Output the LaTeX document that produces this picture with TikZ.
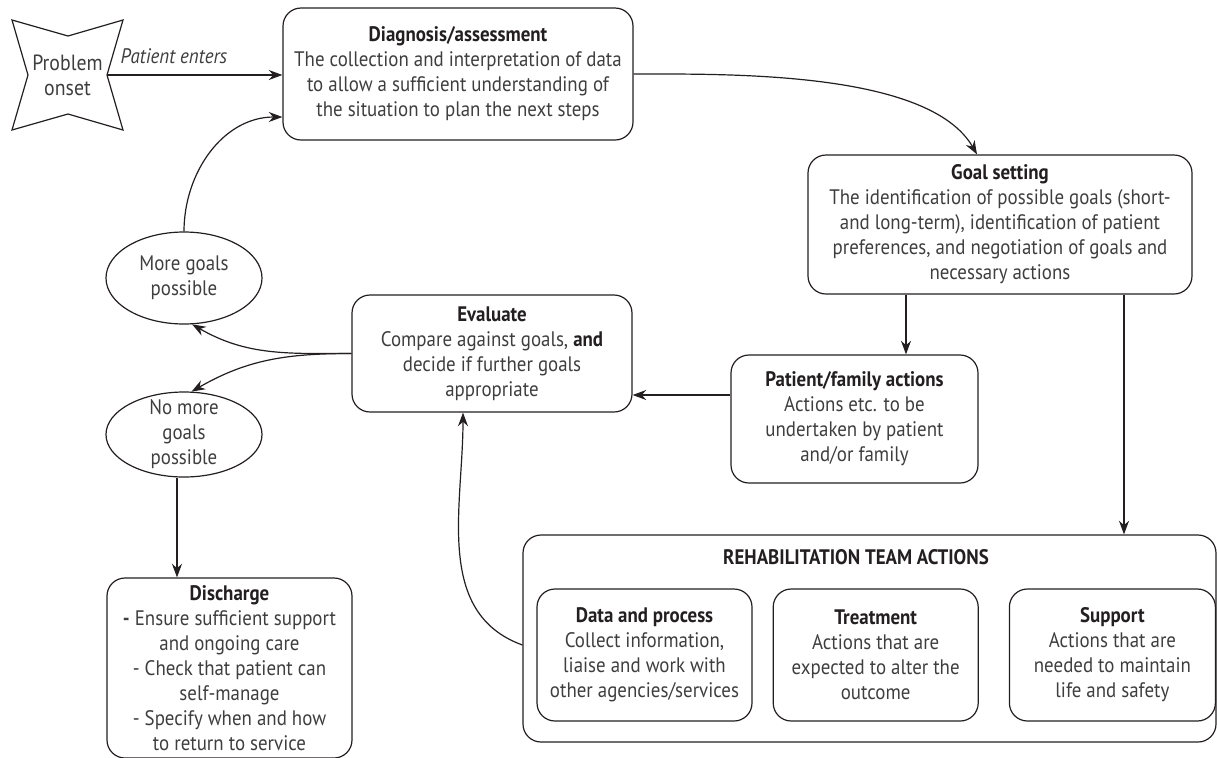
\documentclass[tikz,border=0pt]{standalone}
\usepackage{fontspec}
\setmainfont{PT Sans}[FakeStretch=0.9]
\usepackage{tikz}
\usetikzlibrary{arrows.meta,positioning,shapes.geometric,calc}
\definecolor{fontgray}{RGB}{35, 31, 32}
\definecolor{bodygray}{RGB}{62, 62, 62}
\newcommand{\boxtitle}[1]{{\bfseries\color{fontgray}#1}}

\begin{document}
\begin{tikzpicture}[x=0.5pt, y=-0.5pt, >={Stealth[length=6.8pt, width=5pt]},
		every node/.style={font=\fontsize{10.5}{12.5}\selectfont, text=bodygray},
		stepbox/.style={draw=fontgray, line width=0.6pt, rounded corners=9pt, align=center, inner sep=0pt},
		goalell/.style={draw=fontgray, line width=0.6pt, ellipse, align=center, inner sep=0pt},
		flowLine/.style={line width=0.6pt, draw=fontgray, ->}
		]
	
		\useasboundingbox (0,0) rectangle (1217,757);
	
		% start of the process
		\draw [line width=0.6pt, draw=fontgray] (12,20) -- (68,36) -- (123,20) -- (107,75) -- (123,130) -- (68,114) -- (12,130) -- (28,75) -- cycle;
		\node [minimum width=39.5pt, inner sep=0pt, align=center, font=\fontsize{11}{12.5}\selectfont] (onset) at (67.5,75) {Problem\\onset};
		
		\node [stepbox, minimum width=175pt, minimum height=66pt] (diag) at (458,74) {\boxtitle{Diagnosis/assessment}\\The collection and interpretation of data\\to allow a sufficient understanding of\\the situation to plan the next steps};
		\node [stepbox, minimum width=192pt, minimum height=69.5pt] (goal) at (1000,224.5) {\boxtitle{Goal setting}\\The identification of possible goals (short-\\and long-term), identification of patient\\preferences, and negotiation of goals and\\necessary actions};
		\node [stepbox, minimum width=140pt, minimum height=58.5pt] (eval) at (492,353.5) {\boxtitle{Evaluate}\\Compare against goals, {\bfseries\color{fontgray}and}\\decide if further goals\\appropriate};
		\node [stepbox, minimum width=123.5pt, minimum height=64pt] (patient) at (854.5,419) {\boxtitle{Patient/family actions}\\Actions etc. to be\\undertaken by patient\\and/or family};
		
		\node [goalell, minimum width=78pt, minimum height=46pt] (more) at (184,278) {More goals\\possible};
		\node [goalell, minimum width=78pt, minimum height=42.5pt, inner ysep=-2.5pt] (nomore) at (184,434.5) {No more\\goals\\possible};
		
		\node [stepbox, minimum width=122.5pt, minimum height=90pt] (discharge) at (229.5,668) {\boxtitle{Discharge}\\{\bfseries -} Ensure sufficient support\\and ongoing care\\- Check that patient can\\self-manage\\- Specify when and how\\to return to service};
		
		% team actions
		\node [stepbox, minimum width=346.5pt, minimum height=103.5pt] (rehab) at (869.5,638.5) {};
		\node [inner sep=0pt] (rehabtitle) at (856,557) {\boxtitle{REHABILITATION TEAM ACTIONS}};
		\node [stepbox, minimum width=107.5pt, minimum height=66pt] (data) at (644.5,655) {\boxtitle{Data and process}\\Collect information,\\liaise and work with\\other agencies/services};
		\node [stepbox, minimum width=102.5pt, minimum height=66pt, right=10pt of data] (treat) {\boxtitle{Treatment}\\Actions that are\\expected to alter the\\outcome};
		\node [stepbox, minimum width=103pt, minimum height=66pt, right=15pt of treat] (support) {\boxtitle{Support}\\Actions that are\\needed to maintain\\life and safety};
		
		\draw [flowLine] (onset.east) -- node[above=2pt, pos=0.38, font=\fontsize{10.5}{12.5}\selectfont\itshape]{Patient enters} (onset.east -| diag.west);
		\draw [flowLine] (diag.east) to [out=0, in=120, looseness=0.7] ([xshift=-11.5pt]goal.north);
		\draw [flowLine] ([xshift=-47pt]goal.south) -- ([xshift=-47pt]goal.south |- patient.north);
		\draw [flowLine] ([xshift=62pt]goal.south) -- ([xshift=62pt]goal.south |- rehab.north);
		\draw [flowLine] ([yshift=12pt]patient.west) -- ([yshift=12pt]patient.west -| eval.east);
		\draw [flowLine] (eval.west) to [out=180, in=-30] (more.-80);
		\draw [flowLine] (eval.west) to [out=180, in=30] (nomore.80);
		\draw [flowLine] (more.north) to [out=90, in=180] ([yshift=-21.5pt]diag.west);
		\draw [flowLine] ([xshift=-3.5pt]nomore.south) -- ([xshift=-3.5pt]nomore.south |- discharge.north);
		\draw [flowLine] ([yshift=-3.25pt]rehab.west) to [out=160, in=-90] ([xshift=-14.5pt]eval.south);
		
\end{tikzpicture}
\end{document}
